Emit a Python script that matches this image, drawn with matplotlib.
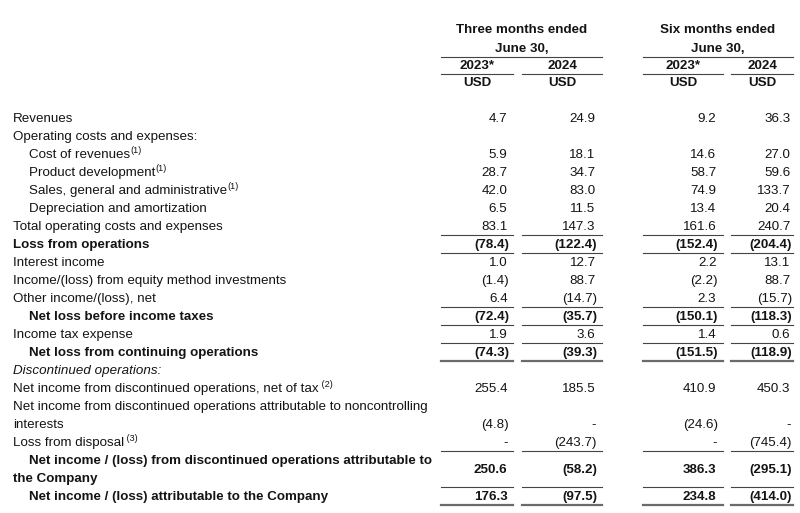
import matplotlib
matplotlib.use("Agg")
import matplotlib.pyplot as plt

plt.rcParams["font.family"] = ["Liberation Sans", "DejaVu Sans"]

# statement rows
labels = [
    "Revenues",
    "Operating costs and expenses:",
    "Cost of revenues",
    "Product development",
    "Sales, general and administrative",
    "Depreciation and amortization",
    "Total operating costs and expenses",
    "Loss from operations",
    "Interest income",
    "Income/(loss) from equity method investments",
    "Other income/(loss), net",
    "Net loss before income taxes",
    "Income tax expense",
    "Net loss from continuing operations",
    "Discontinued operations:",
    "Net income from discontinued operations, net of tax",
    "Net income from discontinued operations attributable to noncontrolling\ninterests",
    "Loss from disposal",
    "Net income / (loss) from discontinued operations attributable to\nthe Company",
    "Net income / (loss) attributable to the Company",
]
notes = ["", "", "(1)", "(1)", "(1)", "", "", "", "", "", "", "", "", "", "",
         " (2)", "", " (3)", "", ""]

# None = "-" ; heading rows carry no values
three_2023 = [4.7, None, 5.9, 28.7, 42.0, 6.5, 83.1, -78.4, 1.0, -1.4, 6.4, -72.4,
              1.9, -74.3, None, 255.4, -4.8, None, 250.6, 176.3]
three_2024 = [24.9, None, 18.1, 34.7, 83.0, 11.5, 147.3, -122.4, 12.7, 88.7, -14.7,
              -35.7, 3.6, -39.3, None, 185.5, None, -243.7, -58.2, -97.5]
six_2023 = [9.2, None, 14.6, 58.7, 74.9, 13.4, 161.6, -152.4, 2.2, -2.2, 2.3, -150.1,
            1.4, -151.5, None, 410.9, -24.6, None, 386.3, 234.8]
six_2024 = [36.3, None, 27.0, 59.6, 133.7, 20.4, 240.7, -204.4, 13.1, 88.7, -15.7,
            -118.3, 0.6, -118.9, None, 450.3, None, -745.4, -295.1, -414.0]
columns = [three_2023, three_2024, six_2023, six_2024]
groups = ["Three months ended\nJune 30,", "Six months ended\nJune 30,"]
years = ["2023*", "2024", "2023*", "2024"]
currency = "USD"

# styles / layout
headings = {1, 14}
indented = {2, 3, 4, 5, 11, 13, 18, 19}
bold_rows = {7, 11, 13, 18, 19}
italic_rows = {14}
val_shift = {16: 1.0, 18: 0.5}
rules_after = {6: 1, 7: 1, 10: 1, 11: 1, 12: 1, 13: 2, 17: 1, 18: 1, 19: 2}

LEFT, INDENT = 13, 29
TOP, STEP = 117.3, 17.98
SPANS = [(441, 513), (522, 602), (643, 723), (731, 793)]
RIGHT = [509, 597, 718, 792]
FS = 9.65
INK = "#141414"


def fmt(v):
    if v is None:
        return "-"
    if v < 0:
        return f"({-v:.1f})"
    return f"{v:.1f}"


fig = plt.figure(figsize=(8, 5.13), dpi=100)
ax = fig.add_axes([0, 0, 1, 1])
ax.set_xlim(0, 800)
ax.set_ylim(513, 0)
ax.axis("off")
fig.canvas.draw()
rend = fig.canvas.get_renderer()

# header
for g, (a, b) in enumerate([(0, 1), (2, 3)]):
    x0, x1 = SPANS[a][0], SPANS[b][1]
    l1, l2 = groups[g].split("\n")
    ax.text((x0 + x1) / 2, 32.8, l1, ha="center", va="baseline", fontsize=FS,
            fontweight="bold", color=INK)
    ax.text((x0 + x1) / 2, 51.6, l2, ha="center", va="baseline", fontsize=FS,
            fontweight="bold", color=INK)
    ax.plot([x0, x1], [57, 57], color="#444444", lw=0.8)
for c, (x0, x1) in enumerate(SPANS):
    ax.text((x0 + x1) / 2, 68.8, years[c], ha="center", va="baseline", fontsize=FS,
            fontweight="bold", color=INK)
    ax.plot([x0, x1], [74.3, 74.3], color="#444444", lw=0.8)
    ax.text((x0 + x1) / 2, 86.4, currency, ha="center", va="baseline", fontsize=FS,
            fontweight="bold", color=INK)

# body
slot = 0
for i, lab in enumerate(labels):
    lines = lab.split("\n")
    weight = "bold" if i in bold_rows else "normal"
    style = "italic" if i in italic_rows else "normal"
    for k, line in enumerate(lines):
        x = INDENT if (i in indented and k == 0) else LEFT
        y = TOP + (slot + k) * STEP + 4.7
        t = ax.text(x, y, line, ha="left", va="baseline", fontsize=FS,
                    fontweight=weight, fontstyle=style, color=INK)
        if k == len(lines) - 1 and notes[i]:
            bb = t.get_window_extent(rend)
            xe = ax.transData.inverted().transform((bb.x1, bb.y0))[0]
            ax.text(xe, y - 4.6, notes[i], ha="left", va="baseline",
                    fontsize=FS * 0.68, color=INK)
    if i not in headings:
        yv = TOP + (slot + val_shift.get(i, 0)) * STEP + 4.7
        for c, col in enumerate(columns):
            v = col[i]
            off = 0 if (v is not None and v < 0) else 1.5
            ax.text(RIGHT[c] - off, yv, fmt(v), ha="right", va="baseline",
                    fontsize=FS, fontweight=weight, color=INK)
    slot += len(lines)
    if i in rules_after:
        yr = TOP + (slot - 0.5) * STEP + 1
        for x0, x1 in SPANS:
            if rules_after[i] == 2:
                ax.plot([x0, x1], [yr, yr], color="#6a6a6a", lw=1.6)
            else:
                ax.plot([x0, x1], [yr, yr], color="#444444", lw=0.8)

fig.savefig("out.png", dpi=100, facecolor="white")
